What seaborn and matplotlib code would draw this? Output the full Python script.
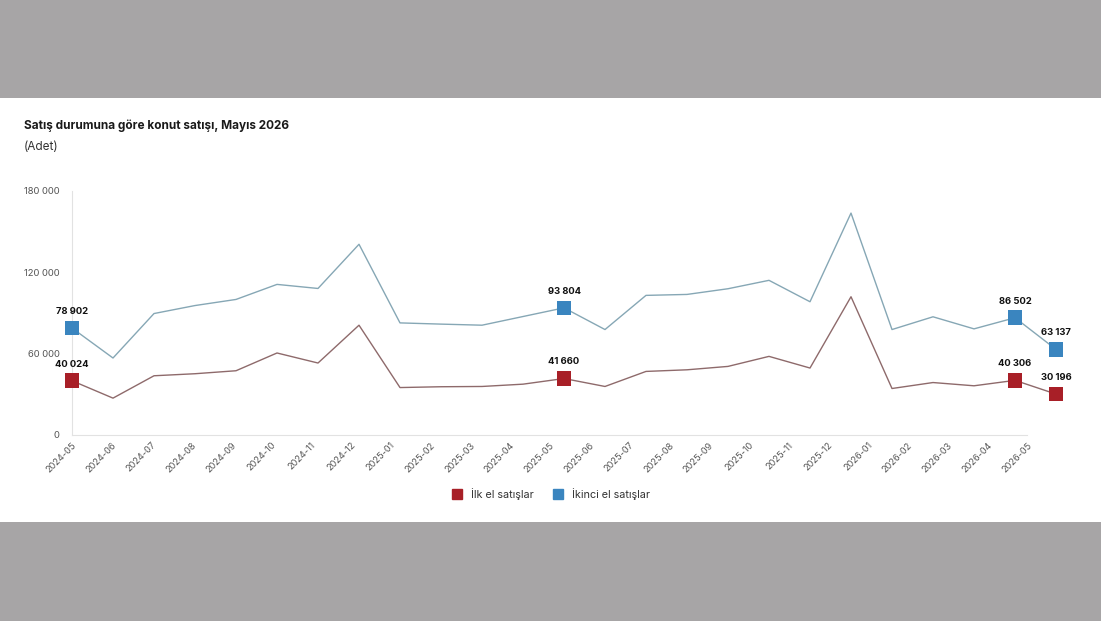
import numpy as np
import pandas as pd
import matplotlib
matplotlib.use("Agg")
import matplotlib.pyplot as plt
from matplotlib.patches import Rectangle
import seaborn as sns

# === Daten ===
months = [
    "2024-05", "2024-06", "2024-07", "2024-08", "2024-09", "2024-10", "2024-11", "2024-12",
    "2025-01", "2025-02", "2025-03", "2025-04", "2025-05", "2025-06", "2025-07", "2025-08",
    "2025-09", "2025-10", "2025-11", "2025-12", "2026-01", "2026-02", "2026-03", "2026-04",
    "2026-05",
]
ilk_el = [
    40024, 27200, 43700, 45200, 47400, 60500, 53100, 81000,
    35000, 35600, 35800, 37500, 41660, 35800, 46900, 48100,
    50600, 58000, 49400, 102000, 34300, 38700, 36300, 40306,
    30196,
]
ikinci_el = [
    78902, 56800, 89600, 95500, 100000, 111100, 108100, 140700,
    82700, 81800, 81000, 87400, 93804, 77800, 103000, 103700,
    107900, 114100, 98300, 163700, 77800, 87200, 78300, 86502,
    63137,
]
highlight_idx = [0, 12, 23, 24]

series_names = ["İlk el satışlar", "İkinci el satışlar"]
marker_colors = ["#a81f27", "#3a85bf"]
line_colors = ["#8e6a6b", "#86a7b5"]

n = len(months)
df = pd.DataFrame({
    "idx": list(range(n)) * 2,
    "value": ilk_el + ikinci_el,
    "series": [series_names[0]] * n + [series_names[1]] * n,
})
hl = df[df["idx"].isin(highlight_idx)]

# === Layout ===
W, H = 1101, 621
fig = plt.figure(figsize=(W / 100, H / 100), dpi=100, facecolor="#a7a5a6")
fig.patches.append(Rectangle((0, (H - 522) / H), 1, (522 - 98) / H,
                             transform=fig.transFigure, facecolor="white",
                             edgecolor="none", zorder=-5))

sns.set_style("white")
plt.rcParams["font.family"] = ["Inter", "DejaVu Sans"]

ax = fig.add_axes([72 / W, (H - 435) / H, (1056 - 72) / W, (435 - 191) / H])
ax.set_facecolor("none")
ax.set_zorder(2)

sns.lineplot(data=df, x="idx", y="value", hue="series", palette=line_colors,
             hue_order=series_names, linewidth=1.0, legend=False, ax=ax, zorder=2)
sns.scatterplot(data=hl, x="idx", y="value", hue="series", palette=marker_colors,
                hue_order=series_names, marker="s", s=110, linewidth=0,
                legend=False, ax=ax, zorder=3, clip_on=False)

for _, row in hl.iterrows():
    txt = f"{int(row['value']):,}".replace(",", " ")
    ax.annotate(txt, (row["idx"], row["value"]), xytext=(0, 12),
                textcoords="offset points", ha="center", va="center",
                fontsize=6.8, fontweight="bold", color="#111111", zorder=4)

ax.set_xlim(0, n - 1)
ax.set_ylim(0, 180000)
ax.set_yticks([0, 60000, 120000, 180000])
ax.set_yticklabels(["0", "60 000", "120 000", "180 000"])

# Kategorien-Beschriftung wie im Original leicht gestaucht
tick_pos = np.arange(n) * (39.8 / 41)
ax.set_xticks(tick_pos)
ax.set_xticklabels(months, rotation=45, ha="right", rotation_mode="anchor")
ax.tick_params(axis="x", length=0, pad=4, labelsize=6.6, labelcolor="#555555")
ax.tick_params(axis="y", length=0, pad=9, labelsize=6.8, labelcolor="#555555")
ax.set_xlabel("")
ax.set_ylabel("")

for s in ["top", "right"]:
    ax.spines[s].set_visible(False)
ax.spines["left"].set_color("#e2e2e2")
ax.spines["bottom"].set_color("#e2e2e2")
ax.spines["left"].set_linewidth(0.8)
ax.spines["bottom"].set_linewidth(0.8)
ax.spines["bottom"].set_bounds(0, tick_pos[-1])

# Titel
fig.text(24 / W, (H - 126) / H, "Satış durumuna göre konut satışı, Mayıs 2026",
         fontsize=8.5, fontweight="bold", color="#1a1a1a", va="center")
fig.text(24 / W, (H - 147) / H, "(Adet)", fontsize=8.5, color="#333333", va="center")

# Legende
handles = [plt.Line2D([], [], marker="s", linestyle="none", markersize=7,
                      markerfacecolor=c, markeredgecolor=c) for c in marker_colors]
fig.legend(handles, series_names, loc="center", bbox_to_anchor=(548 / W, (H - 494) / H),
           ncol=2, frameon=False, fontsize=7.8, handletextpad=0.3, columnspacing=1.2,
           labelcolor="#333333")

fig.savefig("out.png", dpi=100, facecolor=fig.get_facecolor())
